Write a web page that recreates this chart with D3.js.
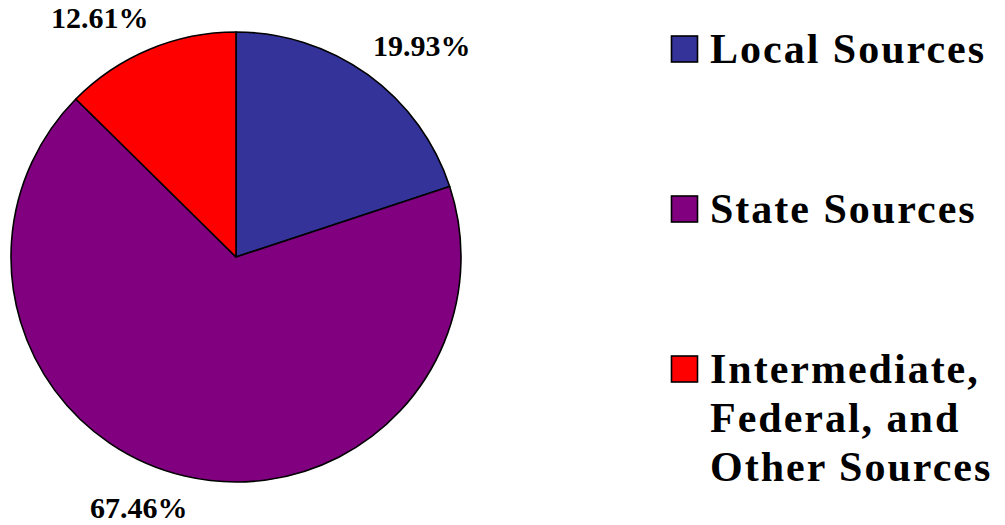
<!DOCTYPE html>
<html>
<head>
<meta charset="utf-8">
<script src="https://cdn.jsdelivr.net/npm/d3@7"></script>
<style>
  body { margin: 0; background: #fff; }
  svg { display: block; }
  text { font-family: "Liberation Serif", "Times New Roman", serif; font-weight: bold; fill: #000; }
</style>
</head>
<body>
<div id="chart"></div>
<script>
// data
var categories = ["Local Sources", "State Sources", "Intermediate, Federal, and Other Sources"];
var shares = [19.93, 67.46, 12.61];
var pctLabels = ["19.93%", "67.46%", "12.61%"];
var legendLines = [["Local Sources"], ["State Sources"], ["Intermediate,", "Federal, and", "Other Sources"]];
var colors = ["#333399", "#800080", "#FF0000"];

var width = 1005, height = 525;
var cx = 236, cy = 257, radius = 225;

var svg = d3.select("#chart").append("svg")
    .attr("width", width)
    .attr("height", height);

var pie = d3.pie().sort(null).value(d => d)(shares);
var arc = d3.arc().innerRadius(0).outerRadius(radius);

var g = svg.append("g").attr("transform", "translate(" + cx + "," + cy + ")");

g.selectAll("path.slice")
  .data(pie)
  .enter().append("path")
    .attr("class", "slice")
    .attr("d", arc)
    .attr("fill", (d, i) => colors[i])
    .attr("stroke", "#000")
    .attr("stroke-width", 1.6)
    .attr("stroke-linejoin", "round");

// percent labels: box corner sits on a ring just outside the pie
var labelR = 247;
g.selectAll("text.pct")
  .data(pie)
  .enter().append("text")
    .attr("class", "pct")
    .attr("font-size", 30)
    .attr("text-anchor", "middle")
    .text((d, i) => pctLabels[i])
    .each(function(d) {
      var a = (d.startAngle + d.endAngle) / 2;
      var sx = Math.sin(a), sy = -Math.cos(a);
      var w = this.getBBox().width;
      var x = sx * labelR + Math.sign(sx) * w * 0.42;
      var y = sy * labelR + Math.sign(sy) * 11 + 10;
      d3.select(this).attr("x", x).attr("y", y);
    });

// legend
var legendY = d3.scalePoint().domain(categories).range([63, 383]);
var lg = svg.append("g").attr("transform", "translate(671,0)");

var item = lg.selectAll("g.item")
  .data(categories)
  .enter().append("g")
    .attr("class", "item")
    .attr("transform", d => "translate(0," + legendY(d) + ")");

item.append("rect")
    .attr("x", 0.5)
    .attr("y", -27)
    .attr("width", 26)
    .attr("height", 26)
    .attr("fill", (d, i) => colors[i])
    .attr("stroke", "#000")
    .attr("stroke-width", 1.6);

item.append("text")
    .attr("font-size", 42)
    .attr("letter-spacing", 2)
    .selectAll("tspan")
    .data((d, i) => legendLines[i])
    .enter().append("tspan")
      .attr("x", 39)
      .attr("y", (d, j) => j * 49)
      .text(d => d);
</script>
</body>
</html>
